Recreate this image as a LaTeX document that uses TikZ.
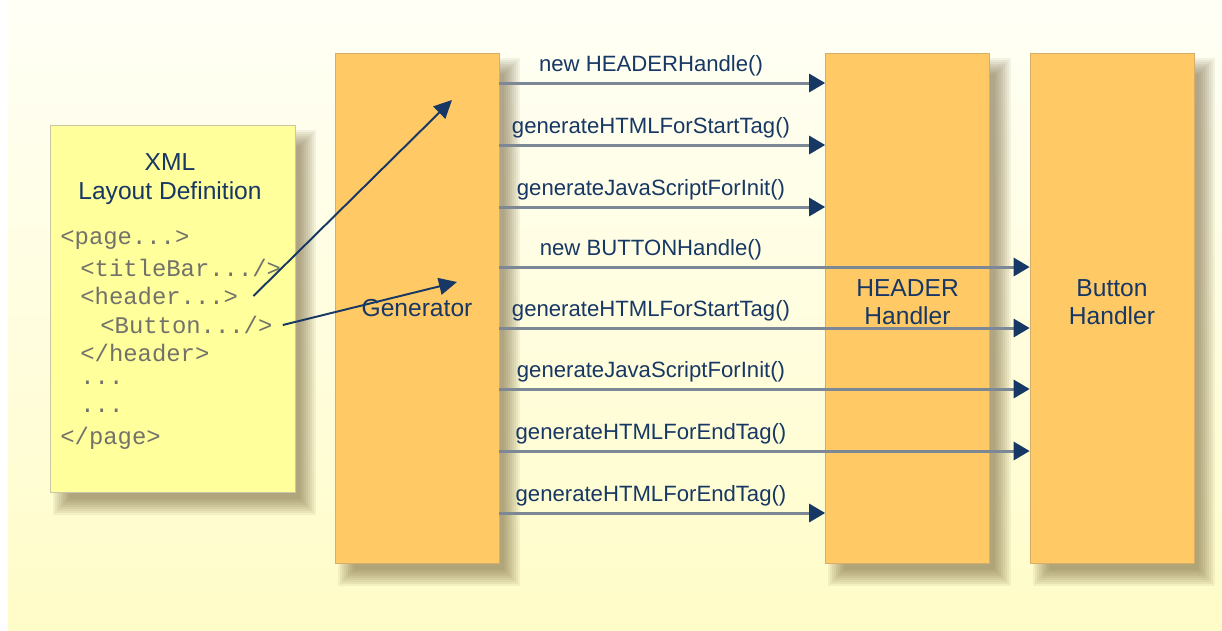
\documentclass[tikz,border=0pt]{standalone}
\usepackage{fontspec}
\setmainfont{Liberation Sans}
\setmonofont{Liberation Mono}
\usetikzlibrary{arrows.meta,backgrounds}

\definecolor{bgtop}{HTML}{FFFFF6}
\definecolor{bgbot}{HTML}{FFFCC8}
\definecolor{orangefill}{HTML}{FFCA66}
\definecolor{orangeline}{HTML}{D6AE6A}
\definecolor{notefill}{HTML}{FFFF9C}
\definecolor{noteline}{HTML}{C9C6A6}
\definecolor{navy}{HTML}{173764}
\definecolor{msgline}{HTML}{7D8896}
\definecolor{codegray}{HTML}{72726A}
\definecolor{shadowc}{HTML}{6E5A32}

% soft shadow behind a named box
\newcommand{\boxshadow}[1]{%
  \foreach \k in {0,...,8}
    \fill[shadowc,fill opacity=0.08]
      ([shift={(3+2*\k,5+2*\k)}]#1.north west) rectangle
      ([shift={(21-2*\k,23-2*\k)}]#1.south east);
}

\tikzset{
  handler/.style={draw=orangeline,fill=orangefill,
      minimum width=3.28cm,minimum height=10.2cm,align=center,
      text=navy,font=\fontsize{14}{16}\selectfont},
  hname/.style={align=center,text=navy,font=\fontsize{14}{16}\selectfont},
  msg/.style={msgline,line width=1.7pt,
      -{Triangle[length=0.32cm,width=0.36cm,color=navy]}},
  calls/.style={navy,line width=1.1pt,
      -{Triangle[length=0.36cm,width=0.34cm]}},
  lbl/.style={text=navy,font=\fontsize{12.6}{14}\selectfont},
  code/.style={anchor=west,inner sep=0pt,text=codegray,
      font=\ttfamily\fontsize{13.6}{16}\selectfont}
}

\begin{document}
\begin{tikzpicture}[x=0.02cm,y=-0.02cm]
  \useasboundingbox (0,0) rectangle (1222,630);

  % the four boxes
  \node[draw=noteline,fill=notefill,minimum width=4.9cm,
        minimum height=7.34cm] (xmldef) at (172.5,308.5) {};
  \node[handler] (generator) at (417,308) {Generator};
  \node[handler,label={[hname,yshift=0.12cm]center:HEADER\\Handler}]
    (headerh) at (907.5,308) {};
  \node[handler,label={[hname,yshift=0.12cm]center:Button\\Handler}]
    (buttonh) at (1112,308) {};

  \begin{pgfonlayer}{background}
    \shade[top color=bgtop,bottom color=bgbot] (8,0) rectangle (1222,630);
    \boxshadow{xmldef}
    \boxshadow{generator}
    \boxshadow{headerh}
    \boxshadow{buttonh}
  \end{pgfonlayer}

  % xml text
  \node[text=navy,align=center,font=\fontsize{14}{16.5}\selectfont]
    (xmltitle) at (170,179) {XML\\Layout Definition};
  \node[code] (c1) at (60,240) {<page...>};
  \node[code] (c2) at (80,268) {<titleBar.../>};
  \node[code] (c3) at (80,296) {<header...>};
  \node[code] (c4) at (100,325) {<Button.../>};
  \node[code] (c5) at (80,353) {</header>};
  \node[code] (c6) at (80,383) {...};
  \node[code] (c7) at (80,411) {...};
  \node[code] (c8) at (60,438) {</page>};

  % generator calls
  \coordinate (g1) at (452,100);
  \coordinate (g2) at (457,282);
  \draw[calls] ([xshift=0.3cm]c3.east) -- (g1);
  \draw[calls] ([xshift=0.2cm]c4.east) -- (g2);

  % messages
  \foreach \y/\lab/\tgt in {83/new HEADERHandle()/headerh,
      145/generateHTMLForStartTag()/headerh,
      207/generateJavaScriptForInit()/headerh,
      267/new BUTTONHandle()/buttonh,
      328/generateHTMLForStartTag()/buttonh,
      389/generateJavaScriptForInit()/buttonh,
      451/generateHTMLForEndTag()/buttonh,
      513/generateHTMLForEndTag()/headerh}{
    \draw[msg] (generator.east |- 0,\y) -- (\tgt.west |- 0,\y);
    \node[lbl] at (651,\y-17) {\lab};
  }
\end{tikzpicture}
\end{document}
